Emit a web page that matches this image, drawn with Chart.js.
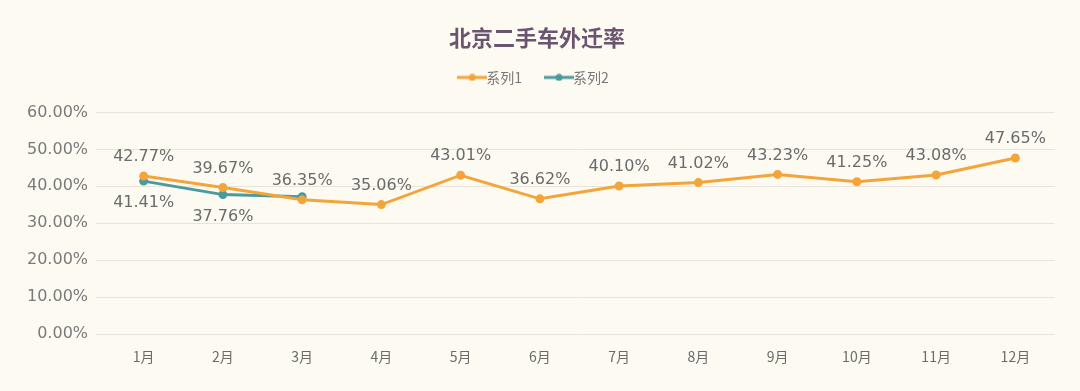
<!DOCTYPE html>
<html>
<head>
<meta charset="utf-8">
<script src="https://cdn.jsdelivr.net/npm/chart.js@4"></script>
<style>
  html, body { margin: 0; padding: 0; background: #fdfaf2; }
  canvas { display: block; }
</style>
</head>
<body>
<canvas id="chart" width="1080" height="391"></canvas>
<script>
// 数据
const months = ['1月', '2月', '3月', '4月', '5月', '6月', '7月', '8月', '9月', '10月', '11月', '12月'];
const series1 = [42.77, 39.67, 36.35, 35.06, 43.01, 36.62, 40.10, 41.02, 43.23, 41.25, 43.08, 47.65];
const series2 = [41.41, 37.76, 37.2];
const series2Labels = ['41.41%', '37.76%', ''];

const orange = '#f3a53a';
const teal = '#4a9aa0';
const labelFont = '16px "DejaVu Sans", "Noto Sans CJK SC", sans-serif';

// 图例标记：线段加圆点
function legendMarker(color) {
    const c = document.createElement('canvas');
    c.width = 30;
    c.height = 8;
    const g = c.getContext('2d');
    g.strokeStyle = color;
    g.lineWidth = 3;
    g.beginPath();
    g.moveTo(0, 4);
    g.lineTo(30, 4);
    g.stroke();
    g.fillStyle = color;
    g.beginPath();
    g.arc(15, 4, 3.5, 0, Math.PI * 2);
    g.fill();
    return c;
}
const markers = [legendMarker(orange), legendMarker(teal)];

// 数据标签插件
const labelPlugin = {
    id: 'labels',
    afterDatasetsDraw(chart) {
        const ctx = chart.ctx;
        ctx.save();
        ctx.font = labelFont;
        ctx.fillStyle = '#6b6b6b';
        ctx.textAlign = 'center';
        ctx.textBaseline = 'middle';
        chart.getDatasetMeta(0).data.forEach((pt, i) => {
            ctx.fillText(series1[i].toFixed(2) + '%', pt.x, pt.y - 19);
        });
        chart.getDatasetMeta(1).data.forEach((pt, i) => {
            if (!series2Labels[i]) return;
            ctx.fillText(series2Labels[i], pt.x, pt.y + 22);
        });
        ctx.restore();
    }
};

// 图例下方留空
const legendSpace = {
    id: 'legendSpace',
    beforeInit(chart) {
        const fit = chart.legend.fit;
        chart.legend.fit = function () {
            fit.bind(chart.legend)();
            this.height += 18;
        };
    }
};

new Chart(document.getElementById('chart'), {
    type: 'line',
    data: {
        labels: months,
        datasets: [
            {
                label: '系列1',
                data: series1,
                borderColor: orange,
                backgroundColor: orange,
                borderWidth: 3,
                pointRadius: 3,
                tension: 0
            },
            {
                label: '系列2',
                data: series2,
                borderColor: teal,
                backgroundColor: teal,
                borderWidth: 3,
                pointRadius: 3,
                tension: 0
            }
        ]
    },
    options: {
        responsive: false,
        animation: false,
        layout: { padding: { left: 19, right: 25, top: 20, bottom: 20 } },
        plugins: {
            title: {
                display: true,
                text: '北京二手车外迁率',
                color: '#6b5470',
                font: { size: 22, weight: 'bold', family: '"Noto Sans CJK SC", sans-serif' },
                padding: { top: 4, bottom: -10 }
            },
            legend: {
                labels: {
                    color: '#777777',
                    font: { size: 14, family: '"Noto Sans CJK SC", sans-serif' },
                    usePointStyle: true,
                    padding: 30,
                    generateLabels(chart) {
                        const items = Chart.defaults.plugins.legend.labels.generateLabels(chart);
                        items.forEach((it, i) => { it.pointStyle = markers[i]; });
                        return items;
                    }
                }
            },
            tooltip: { enabled: false }
        },
        scales: {
            x: {
                offset: true,
                grid: { display: false },
                border: { display: false },
                ticks: { color: '#6b6b6b', font: { size: 14, family: '"Noto Sans CJK SC", sans-serif' }, padding: 6 }
            },
            y: {
                min: 0,
                max: 60,
                grid: { color: '#e8e4dc' },
                border: { display: false },
                ticks: {
                    stepSize: 10,
                    color: '#7a7a7a',
                    font: { size: 16, family: '"DejaVu Sans", sans-serif' },
                    padding: 8,
                    callback: v => v.toFixed(2) + '%'
                }
            }
        }
    },
    plugins: [labelPlugin, legendSpace]
});
</script>
</body>
</html>
